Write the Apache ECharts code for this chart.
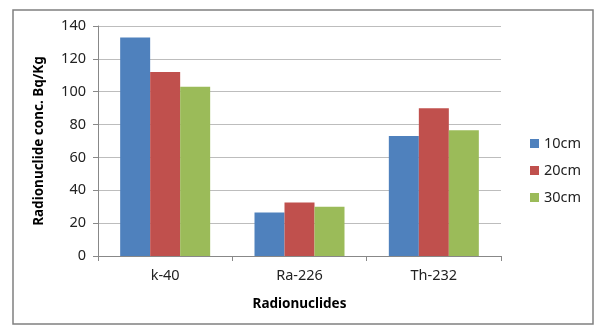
<!DOCTYPE html>
<html>
<head>
<meta charset="utf-8">
<script src="https://cdn.jsdelivr.net/npm/echarts@6/dist/echarts.min.js"></script>
<style>
html, body { margin: 0; padding: 0; background: #fff; }
#main { width: 606px; height: 336px; }
</style>
</head>
<body>
<div id="main"></div>
<script>
// data
var categories = ['k-40', 'Ra-226', 'Th-232'];
var seriesNames = ['10cm', '20cm', '30cm'];
var values10 = [133, 26.5, 73];
var values20 = [112, 32.5, 90];
var values30 = [103, 30, 76.5];
var yTicks = [0, 20, 40, 60, 80, 100, 120, 140];

var colors = ['#4f81bd', '#c0504d', '#9bbb59'];
var font = '"Noto Sans", "Open Sans", sans-serif';

var myChart = echarts.init(document.getElementById('main'));

var makeSeries = function(name, data, i){
	return {
		name: name,
		type: 'bar',
		data: data,
		barGap: '0%',
		barCategoryGap: '33%',
		itemStyle: { color: colors[i] }
	};
};

var option = {
	animation: false,
	graphic: [{
		type: 'rect',
		shape: { x: 13, y: 10, width: 580, height: 314 },
		style: { fill: 'none', stroke: '#808080', lineWidth: 1.5 },
		z: -1
	}],
	grid: { left: 98, right: 105, top: 26, bottom: 80 },
	legend: {
		orient: 'vertical',
		left: 525,
		top: 131,
		itemWidth: 9,
		itemHeight: 9,
		itemGap: 12,
		icon: 'rect',
		textStyle: { fontFamily: font, fontSize: 14.5, color: '#222' },
		data: seriesNames
	},
	xAxis: {
		type: 'category',
		data: categories,
		name: 'Radionuclides',
		nameLocation: 'middle',
		nameGap: 41,
		nameTextStyle: { fontFamily: font, fontSize: 13.5, fontWeight: 'bold', color: '#000' },
		axisLine: { lineStyle: { color: '#888' } },
		axisTick: { show: true, length: 5, lineStyle: { color: '#888' } },
		axisLabel: { fontFamily: font, fontSize: 14.5, color: '#222', margin: 12 }
	},
	yAxis: {
		type: 'value',
		min: 0,
		max: 140,
		interval: 20,
		name: 'Radionuclide conc. Bq/Kg',
		nameLocation: 'middle',
		nameGap: 52,
		nameTextStyle: { fontFamily: font, fontSize: 13.5, fontWeight: 'bold', color: '#000' },
		axisLine: { show: true, lineStyle: { color: '#888' } },
		axisTick: { show: true, length: 5, lineStyle: { color: '#888' } },
		axisLabel: {
			fontFamily: font, fontSize: 14.5, color: '#222', margin: 12,
			formatter: function(v){ return yTicks.indexOf(v) >= 0 ? String(v) : ''; }
		},
		splitLine: { lineStyle: { color: '#bdbdbd' } }
	},
	series: [
		makeSeries(seriesNames[0], values10, 0),
		makeSeries(seriesNames[1], values20, 1),
		makeSeries(seriesNames[2], values30, 2)
	]
};

myChart.setOption(option);
</script>
</body>
</html>
